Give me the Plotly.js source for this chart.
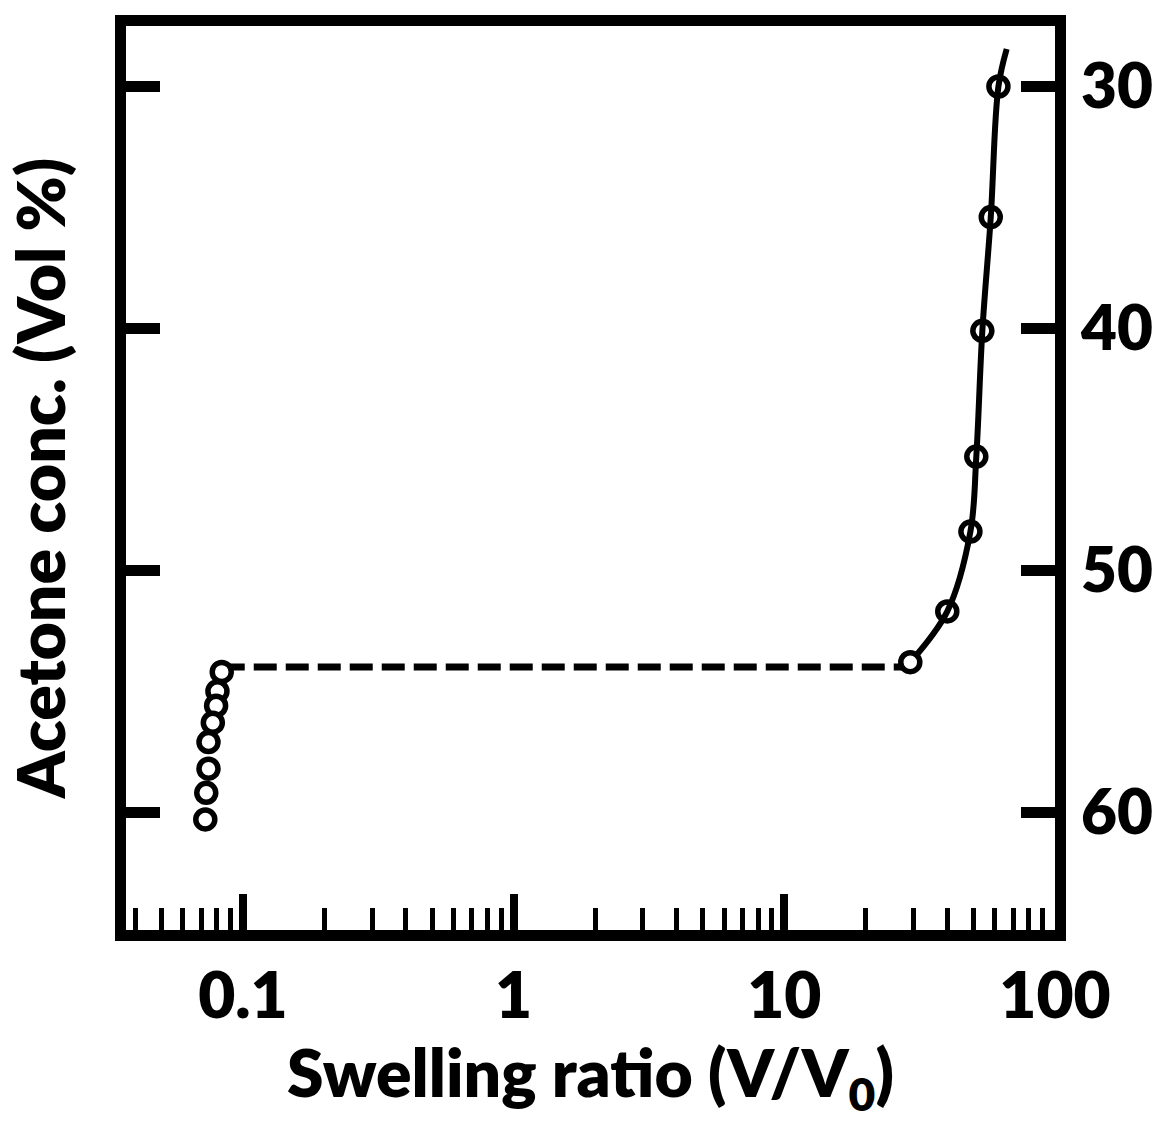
<!DOCTYPE html>
<html><head><meta charset="utf-8">
<script src="https://cdn.plot.ly/plotly-3.0.1.min.js"></script>
<style>html,body{margin:0;padding:0;background:#fff}#chart{width:1167px;height:1130px}</style>
</head><body><div id="chart"></div>
<script>
// Collapsed (low swelling) branch
const lowSwelling = [0.0835, 0.0805, 0.0796, 0.0774, 0.0746, 0.0746, 0.0732, 0.0726];
const lowAcetone  = [54.2, 55.0, 55.6, 56.3, 57.1, 58.2, 59.2, 60.3];
// Swollen (high swelling) branch
const highSwelling = [29.2, 40.0, 48.7, 51.2, 53.9, 57.9, 61.8];
const highAcetone  = [53.8, 51.7, 48.4, 45.3, 40.1, 35.4, 30.0];
// Smooth guide curve through the swollen branch (extends slightly past last point)
const curveSwelling = [29.2, 40.0, 48.7, 51.2, 53.9, 57.9, 61.8, 66.3];
const curveAcetone  = [53.8, 51.7, 48.4, 45.3, 40.1, 35.4, 30.0, 28.45];
// Discontinuous transition (dashed)
const transitionSwelling = [0.0835, 29.2];
const transitionAcetone  = [54.0, 54.0];
// Ticks
const xTickVals = [0.1, 1, 10, 100];
const xTickText = ['0.1', '1', '10', '100'];
const yTickVals = [30, 40, 50, 60];
const yTickText = ['30', '40', '50', '60'];

const FONT = 'Lato, "Open Sans", sans-serif';
const W = 800;

const highSymbols = highSwelling.map((v, i) => i === 0 ? 'circle' : 'circle-open');
const highColors  = highSwelling.map((v, i) => i === 0 ? 'white' : 'black');

const traces = [
  {x: transitionSwelling, y: transitionAcetone, mode: 'lines', type: 'scatter',
   line: {color: 'black', width: 7, dash: '23px,9px'}, hoverinfo: 'skip'},
  {x: curveSwelling, y: curveAcetone, mode: 'lines', type: 'scatter',
   line: {color: 'black', width: 6, shape: 'spline', smoothing: 1}, hoverinfo: 'skip'},
  {x: lowSwelling, y: lowAcetone, mode: 'markers', type: 'scatter',
   marker: {symbol: 'circle', size: 19, color: 'white', line: {color: 'black', width: 5.5}}},
  {x: highSwelling, y: highAcetone, mode: 'markers', type: 'scatter', yaxis: 'y2',
   marker: {symbol: highSymbols, size: 19, color: highColors, line: {color: 'black', width: 5.5}}}
];

const yRange = [64.87, 27.50];

const layout = {
  width: 1167, height: 1130,
  margin: {l: 126, r: 112, t: 26, b: 200, pad: 0},
  paper_bgcolor: 'white', plot_bgcolor: 'white',
  showlegend: false,
  font: {family: FONT, color: 'black'},
  xaxis: {
    type: 'log', range: [-1.432, 2.0], fixedrange: true,
    showline: true, linewidth: 11, linecolor: 'black', mirror: true,
    ticks: 'inside', ticklen: 36, tickwidth: 8, tickcolor: 'black',
    tickmode: 'array', tickvals: xTickVals, ticktext: xTickText,
    tickfont: {family: FONT, size: 64, weight: W, color: 'black'},
    minor: {ticks: 'inside', ticklen: 22, tickwidth: 5, tickcolor: 'black', dtick: 'D1', showgrid: false},
    showgrid: false, zeroline: false, automargin: false,
    title: {text: 'Swelling ratio (V/V<sub>0</sub>)', font: {family: FONT, size: 66, weight: W, color: 'black'}, standoff: 14}
  },
  yaxis: {
    range: yRange, fixedrange: true,
    showline: true, linewidth: 11, linecolor: 'black', mirror: 'ticks',
    ticks: 'inside', ticklen: 34, tickwidth: 11, tickcolor: 'black',
    tickmode: 'array', tickvals: yTickVals, showticklabels: false,
    showgrid: false, zeroline: false, automargin: false,
    title: {text: 'Acetone conc. (Vol %)', font: {family: FONT, size: 66, weight: W, color: 'black'}, standoff: 40}
  },
  yaxis2: {
    overlaying: 'y', side: 'right', range: yRange, fixedrange: true,
    showline: false, ticks: '', showgrid: false, zeroline: false, automargin: false,
    tickmode: 'array', tickvals: yTickVals, ticktext: yTickText,
    tickfont: {family: FONT, size: 62, weight: W, color: 'black'}, ticklabelstandoff: 25
  }
};

Plotly.newPlot('chart', traces, layout, {displayModeBar: false, staticPlot: true});
</script>
</body></html>
